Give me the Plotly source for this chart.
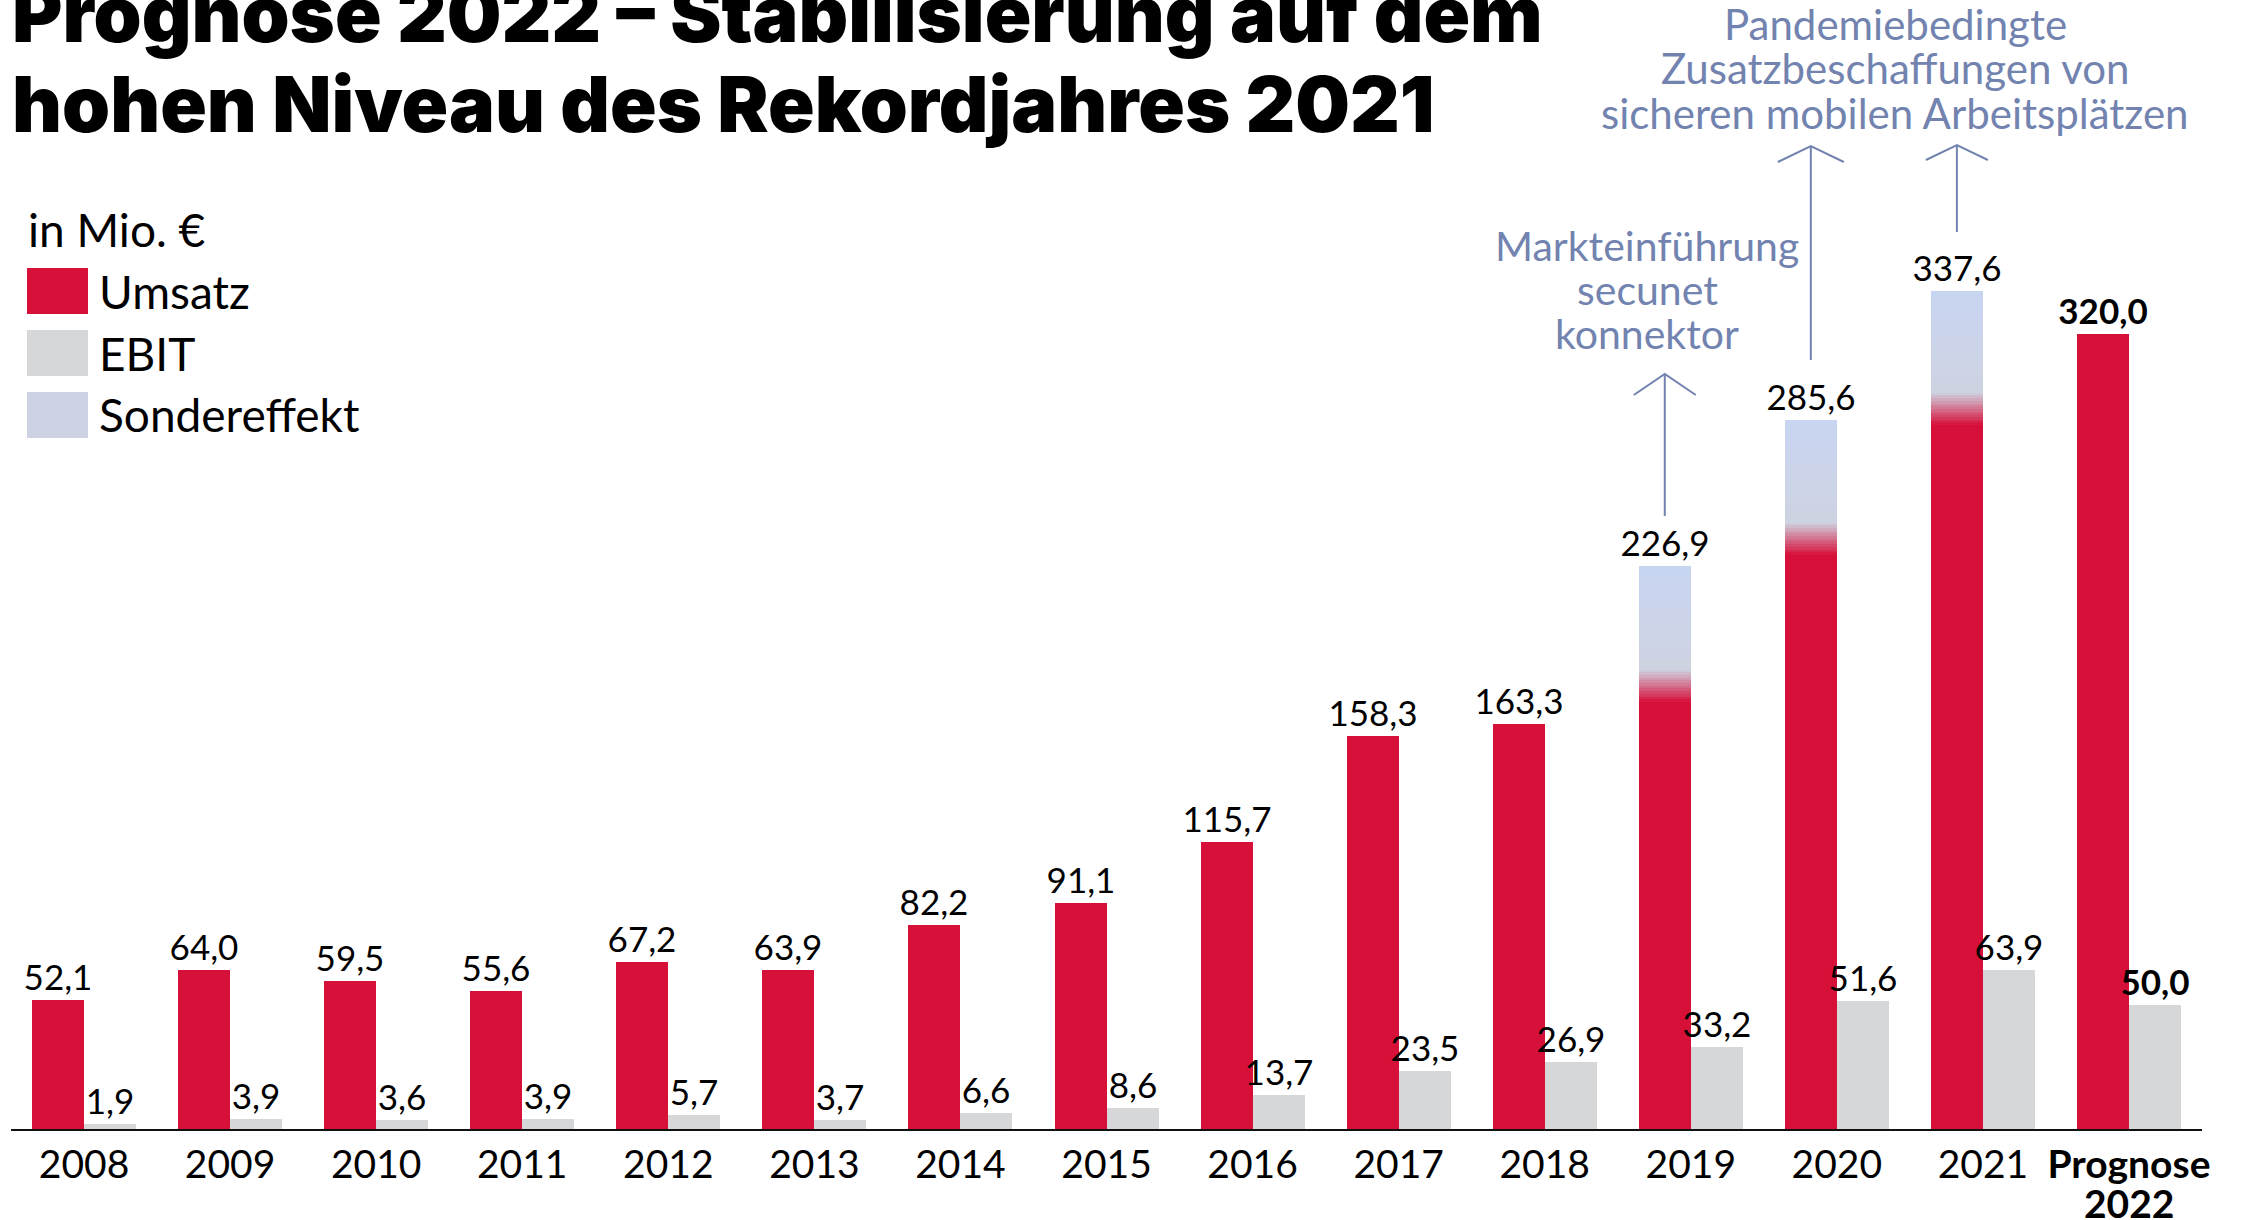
import plotly.graph_objects as go

# ---------------- data ----------------
jahre = ["2008", "2009", "2010", "2011", "2012", "2013", "2014", "2015",
         "2016", "2017", "2018", "2019", "2020", "2021", "Prognose 2022"]
tick_labels = ["2008", "2009", "2010", "2011", "2012", "2013", "2014", "2015",
               "2016", "2017", "2018", "2019", "2020", "2021", "<b>Prognose</b>"]
tick_label_line2 = {"Prognose 2022": "<b>2022</b>"}
umsatz = [52.1, 64.0, 59.5, 55.6, 67.2, 63.9, 82.2, 91.1,
          115.7, 158.3, 163.3, 226.9, 285.6, 337.6, 320.0]
ebit = [1.9, 3.9, 3.6, 3.9, 5.7, 3.7, 6.6, 8.6,
        13.7, 23.5, 26.9, 33.2, 51.6, 63.9, 50.0]
sonder_jahre = ["2019", "2020", "2021"]
sonder_ab = [172.0, 231.2, 283.5]

# ---------------- styling ----------------
RED = "#D7103A"
GREY = "#D6D7D9"
SONDER_LEG = "#CDD3E3"
BLUE_TOP = (200, 213, 242)
BLUE_LOW = (206, 211, 225)
RED_RGB = (215, 16, 58)
NOTE = "#7283AF"
FONT = "Lato"
TITLE_FONT = "Inter"

W, H = 2245, 1220
ML, MR, MT, MB = 11, 43, 0, 91
PW, PH = W - ML - MR, H - MT - MB
PX_PER_UNIT = 2.483
YMAX = PH / PX_PER_UNIT
CAT_PX = PW / 15.0
BW = 0.356          # bar width in category units
BAND = 13.0         # height of colour transition (units)
N_TR, N_BL = 12, 10
TICK_SIZE = 39


def yval(py):
    return (MT + PH - py) / PX_PER_UNIT


def xp(px):
    return (px - ML) / PW


def yp(py):
    return (MT + PH - py) / PH


def mix(c1, c2, t):
    return "rgb(%d,%d,%d)" % tuple(round(a + (b - a) * t) for a, b in zip(c1, c2))


def fmt(v, bold=False):
    s = f"{v:.1f}".replace(".", ",")
    return f"<b>{s}</b>" if bold else s


xs = list(range(len(jahre)))
last = len(jahre) - 1
LABEL_SIZE = 35

fig = go.Figure()
fig.add_trace(go.Bar(
    x=xs, y=umsatz, name="Umsatz", marker=dict(color=RED, line=dict(width=0)),
    width=BW, offset=-BW,
    text=[fmt(v, i == last) for i, v in enumerate(umsatz)],
    textposition="outside", constraintext="none", cliponaxis=False,
    textfont=dict(family=FONT, size=LABEL_SIZE, color="black"), showlegend=False))
fig.add_trace(go.Bar(
    x=xs, y=ebit, name="EBIT", marker=dict(color=GREY, line=dict(width=0)),
    width=BW, offset=0,
    text=[fmt(v, i == last) for i, v in enumerate(ebit)],
    textposition="outside", constraintext="none", cliponaxis=False,
    textfont=dict(family=FONT, size=LABEL_SIZE, color="black"), showlegend=False))

# Sondereffekt overlay: transition band + blue part, drawn as thin stacked segments
sx = [jahre.index(j) for j in sonder_jahre]
stot = [umsatz[i] for i in sx]
ov = 0.4
for k in range(N_TR):
    t = (k + 0.5) / N_TR
    step = BAND / N_TR
    fig.add_trace(go.Bar(
        x=sx, y=[step + ov] * len(sx), base=[a + k * step for a in sonder_ab],
        width=BW, offset=-BW, marker=dict(color=mix(RED_RGB, BLUE_LOW, t), line=dict(width=0)),
        showlegend=False, hoverinfo="skip"))
for k in range(N_BL):
    t = (k + 0.5) / N_BL
    bases, hs = [], []
    for a, tot in zip(sonder_ab, stot):
        step = (tot - a - BAND) / N_BL
        bases.append(a + BAND + k * step)
        hs.append(step + (ov if k < N_BL - 1 else 0))
    fig.add_trace(go.Bar(
        x=sx, y=hs, base=bases, width=BW, offset=-BW,
        marker=dict(color=mix(BLUE_LOW, BLUE_TOP, t), line=dict(width=0)),
        showlegend=False, hoverinfo="skip"))

annotations = []
shapes = []

# Title
for txt, base_py in [("Prognose 2022 – Stabilisierung auf dem", 42),
                     ("hohen Niveau des Rekordjahres 2021", 132)]:
    size = 77
    annotations.append(dict(
        text=txt, xref="paper", yref="paper", x=xp(10), y=yp(base_py - 0.37 * size),
        xanchor="left", yanchor="middle", showarrow=False,
        font=dict(family=TITLE_FONT, size=size, color="black", weight=900)))

# Second line of the last category label
for cat, txt in tick_label_line2.items():
    annotations.append(dict(text=txt, xref="x", yref="paper", x=jahre.index(cat), y=yp(1203),
                            xanchor="center", yanchor="middle", showarrow=False,
                            font=dict(family=FONT, size=TICK_SIZE, color="black")))

# Legend
LEG_SIZE = 46
annotations.append(dict(text="in Mio. €", xref="paper", yref="paper", x=xp(26), y=yp(229),
                        xanchor="left", yanchor="middle", showarrow=False,
                        font=dict(family=FONT, size=LEG_SIZE, color="black")))
for label, col, top in [("Umsatz", RED, 268), ("EBIT", GREY, 330), ("Sondereffekt", SONDER_LEG, 392)]:
    shapes.append(dict(type="rect", xref="paper", yref="paper",
                       x0=xp(27), x1=xp(88), y0=yp(top + 46), y1=yp(top),
                       fillcolor=col, line=dict(width=0)))
    annotations.append(dict(text=label, xref="paper", yref="paper", x=xp(97), y=yp(top + 23),
                            xanchor="left", yanchor="middle", showarrow=False,
                            font=dict(family=FONT, size=LEG_SIZE, color="black")))

# Notes
for lines, cx, baselines, ns in [
    (["Markteinführung", "secunet", "konnektor"], 1647, [261, 305, 349], 41),
    (["Pandemiebedingte", "Zusatzbeschaffungen von", "sicheren mobilen Arbeitsplätzen"], 1895, [40, 84.5, 129], 42),
]:
    for ln, b in zip(lines, baselines):
        annotations.append(dict(text=ln, xref="paper", yref="paper", x=xp(cx),
                                y=yp(b - 0.387 * ns), xanchor="center", yanchor="middle",
                                showarrow=False, font=dict(family=FONT, size=ns, color=NOTE)))

# Arrows (pointing up from the special-effect bars)
for jahr, tip, bottom, dx, dy in [("2019", 374, 516, 31, 21),
                                  ("2020", 146, 360, 33, 16),
                                  ("2021", 145, 232, 31, 15)]:
    x = jahre.index(jahr) - BW / 2
    dxd = dx / CAT_PX
    shapes.append(dict(type="line", xref="x", yref="y", x0=x, x1=x,
                       y0=yval(bottom), y1=yval(tip), line=dict(color=NOTE, width=2)))
    shapes.append(dict(type="path", xref="x", yref="y",
                       path=f"M {x - dxd},{yval(tip + dy)} L {x},{yval(tip)} L {x + dxd},{yval(tip + dy)}",
                       line=dict(color=NOTE, width=2)))

fig.update_layout(
    width=W, height=H, autosize=False,
    margin=dict(l=ML, r=MR, t=MT, b=MB, pad=0, autoexpand=False),
    paper_bgcolor="white", plot_bgcolor="white",
    barmode="overlay", bargap=0,
    showlegend=False,
    annotations=annotations, shapes=shapes,
    font=dict(family=FONT, color="black"),
    xaxis=dict(range=[-0.5, 14.5], tickmode="array", tickvals=xs, ticktext=tick_labels,
               automargin=False,
               showgrid=False, zeroline=False, showline=True, linecolor="#111111", linewidth=2,
               ticks="", ticklabelstandoff=0, tickfont=dict(family=FONT, size=TICK_SIZE, color="black"),
               fixedrange=True),
    yaxis=dict(range=[0, YMAX], visible=False, automargin=False,
               showgrid=False, zeroline=False, fixedrange=True),
)

fig.write_html("out.html", config={"displayModeBar": False},
               post_script="document.body.style.margin='0px';document.body.style.overflow='hidden';")
